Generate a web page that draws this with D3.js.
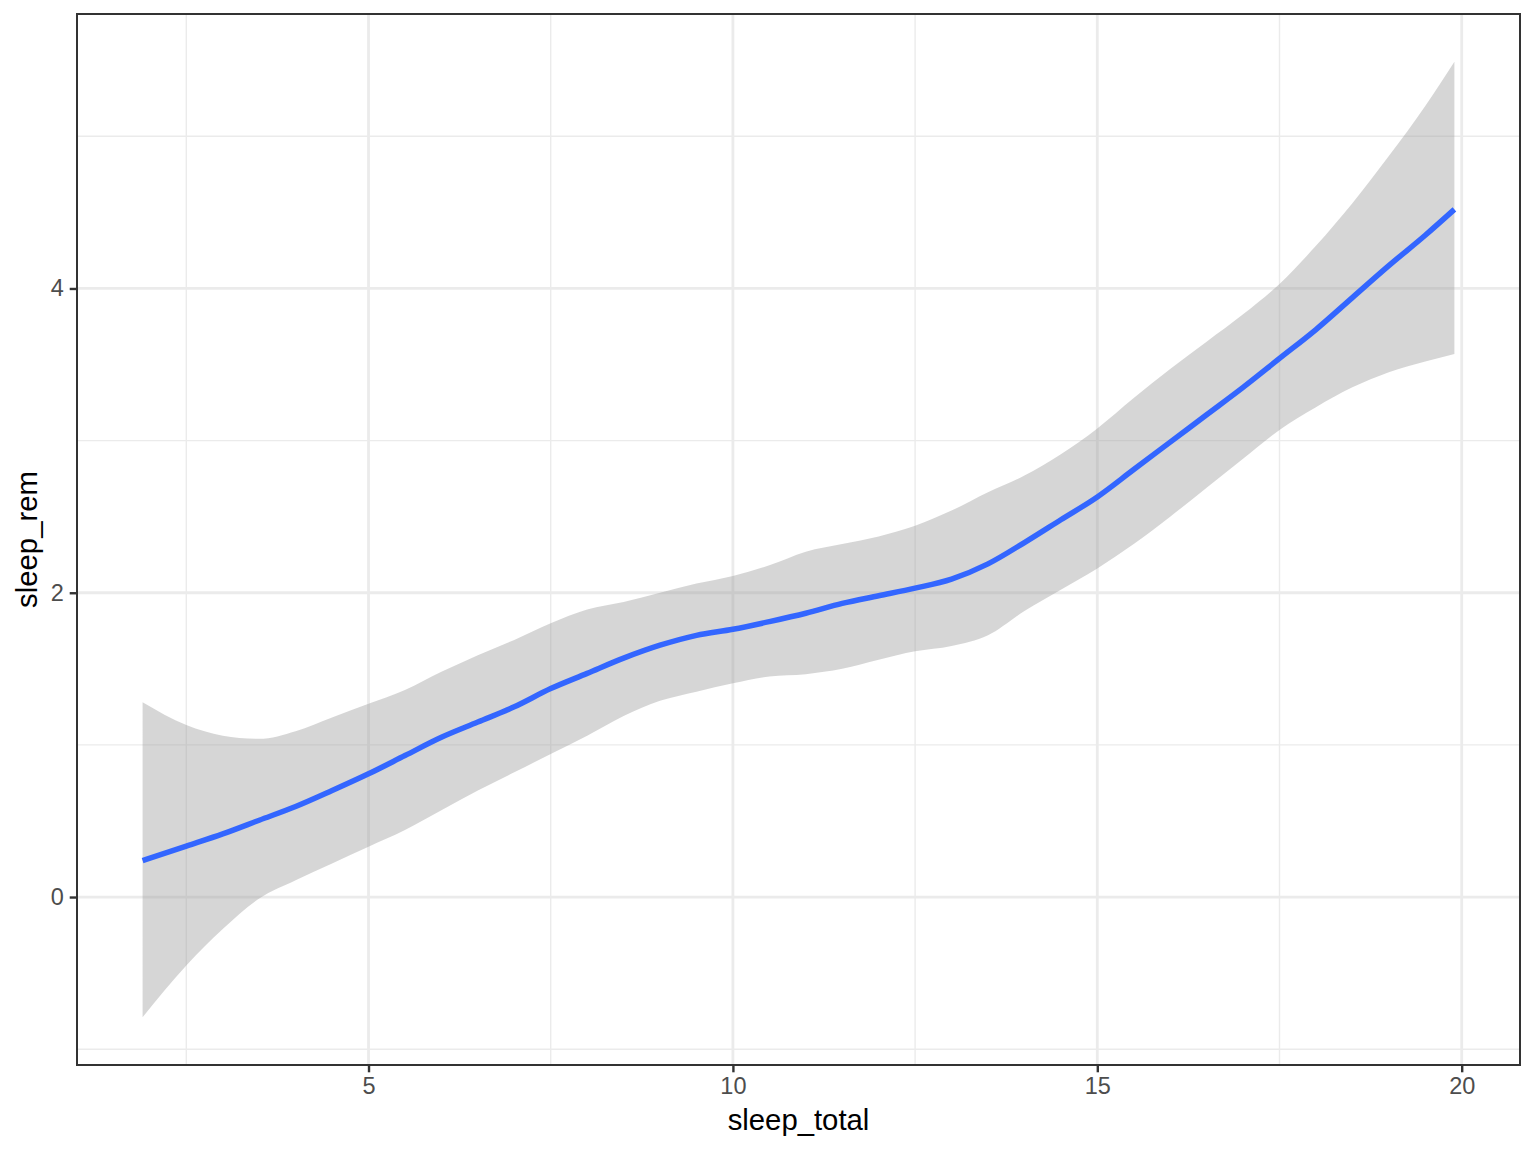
<!DOCTYPE html>
<html>
<head>
<meta charset="utf-8">
<script src="https://cdn.jsdelivr.net/npm/d3@7"></script>
<style>
  html, body { margin: 0; padding: 0; background: #ffffff; }
  svg { display: block; }
  text { font-family: "Liberation Sans", Arial, "DejaVu Sans", sans-serif; }
</style>
</head>
<body>
<svg id="chart" width="1536" height="1152"></svg>
<script>
// ---- data ----
const sleepTotal = [1.9, 2.5, 3.0, 3.5, 4.0, 4.5, 5.0, 5.5, 6.0, 6.5, 7.0, 7.5, 8.0, 8.5, 9.0, 9.5, 10, 10.5, 11, 11.5, 12, 12.5, 13, 13.5, 14, 14.5, 15, 15.5, 16, 16.5, 17, 17.5, 18, 18.5, 19, 19.5, 19.9];
const fitRem = [0.24, 0.335, 0.415, 0.505, 0.595, 0.70, 0.81, 0.93, 1.05, 1.15, 1.25, 1.37, 1.47, 1.57, 1.655, 1.72, 1.76, 1.81, 1.865, 1.93, 1.98, 2.03, 2.09, 2.19, 2.33, 2.48, 2.63, 2.81, 2.99, 3.17, 3.35, 3.54, 3.73, 3.94, 4.15, 4.35, 4.52];
const upperRem = [1.28, 1.13, 1.06, 1.04, 1.09, 1.18, 1.27, 1.36, 1.48, 1.59, 1.69, 1.80, 1.89, 1.94, 2.00, 2.06, 2.11, 2.18, 2.27, 2.32, 2.37, 2.44, 2.54, 2.66, 2.77, 2.91, 3.08, 3.28, 3.47, 3.65, 3.83, 4.03, 4.28, 4.56, 4.87, 5.20, 5.49];
const lowerRem = [-0.79, -0.45, -0.21, -0.01, 0.11, 0.22, 0.33, 0.44, 0.57, 0.70, 0.82, 0.94, 1.06, 1.19, 1.29, 1.35, 1.405, 1.45, 1.465, 1.50, 1.56, 1.615, 1.65, 1.72, 1.88, 2.02, 2.16, 2.32, 2.50, 2.69, 2.88, 3.07, 3.22, 3.35, 3.45, 3.52, 3.57];
const xTicks = [5, 10, 15, 20];
const xMinor = [2.5, 7.5, 12.5, 17.5];
const yTicks = [0, 2, 4];
const yMinor = [-1, 1, 3, 5];
const xLabel = "sleep_total";
const yLabel = "sleep_rem";

const rows = sleepTotal.map((x, i) => ({ x, y: fitRem[i], lo: lowerRem[i], hi: upperRem[i] }));

// ---- layout ----
const panel = { left: 77, right: 1520, top: 14, bottom: 1065 };
const svg = d3.select("#chart");

// ggplot-style 5% expansion
const xMin = d3.min(sleepTotal), xMax = d3.max(sleepTotal);
const xPad = (xMax - xMin) * 0.05;
const yMin = d3.min(lowerRem), yMax = d3.max(upperRem);
const yPad = (yMax - yMin) * 0.05;

const x = d3.scaleLinear().domain([xMin - xPad, xMax + xPad]).range([panel.left, panel.right]);
const y = d3.scaleLinear().domain([yMin - yPad, yMax + yPad]).range([panel.bottom, panel.top]);

svg.append("rect").attr("x", 0).attr("y", 0).attr("width", 1536).attr("height", 1152).attr("fill", "#ffffff");

const grid = svg.append("g");
grid.selectAll("line.xminor").data(xMinor).join("line")
  .attr("x1", d => x(d)).attr("x2", d => x(d))
  .attr("y1", panel.top).attr("y2", panel.bottom)
  .attr("stroke", "#EBEBEB").attr("stroke-width", 1.4);
grid.selectAll("line.yminor").data(yMinor).join("line")
  .attr("y1", d => y(d)).attr("y2", d => y(d))
  .attr("x1", panel.left).attr("x2", panel.right)
  .attr("stroke", "#EBEBEB").attr("stroke-width", 1.4);
grid.selectAll("line.xmajor").data(xTicks).join("line")
  .attr("x1", d => x(d)).attr("x2", d => x(d))
  .attr("y1", panel.top).attr("y2", panel.bottom)
  .attr("stroke", "#EBEBEB").attr("stroke-width", 2.8);
grid.selectAll("line.ymajor").data(yTicks).join("line")
  .attr("y1", d => y(d)).attr("y2", d => y(d))
  .attr("x1", panel.left).attr("x2", panel.right)
  .attr("stroke", "#EBEBEB").attr("stroke-width", 2.8);

// ribbon
const area = d3.area().x(d => x(d.x)).y0(d => y(d.lo)).y1(d => y(d.hi)).curve(d3.curveMonotoneX);
svg.append("path").datum(rows).attr("d", area)
  .attr("fill", "#999999").attr("fill-opacity", 0.4);

// fitted line
const line = d3.line().x(d => x(d.x)).y(d => y(d.y)).curve(d3.curveMonotoneX);
svg.append("path").datum(rows).attr("d", line)
  .attr("fill", "none").attr("stroke", "#3366FF").attr("stroke-width", 5.5)
  .attr("stroke-linejoin", "round");

// panel border
svg.append("rect")
  .attr("x", panel.left).attr("y", panel.top)
  .attr("width", panel.right - panel.left).attr("height", panel.bottom - panel.top)
  .attr("fill", "none").attr("stroke", "#333333").attr("stroke-width", 2);

// axes
const xAxis = d3.axisBottom(x).tickValues(xTicks).tickSize(7.3).tickPadding(5.5).tickFormat(d3.format("d"));
const gx = svg.append("g").attr("transform", `translate(0,${panel.bottom})`).call(xAxis);
gx.select(".domain").remove();
gx.selectAll(".tick line").attr("stroke", "#333333").attr("stroke-width", 2.4);
gx.selectAll(".tick text").attr("fill", "#4D4D4D").attr("font-size", "23.5px")
  .attr("font-family", "'Liberation Sans', Arial, sans-serif");

const yAxis = d3.axisLeft(y).tickValues(yTicks).tickSize(7.3).tickPadding(6).tickFormat(d3.format("d"));
const gy = svg.append("g").attr("transform", `translate(${panel.left},0)`).call(yAxis);
gy.select(".domain").remove();
gy.selectAll(".tick line").attr("stroke", "#333333").attr("stroke-width", 2.4);
gy.selectAll(".tick text").attr("fill", "#4D4D4D").attr("font-size", "23.5px")
  .attr("font-family", "'Liberation Sans', Arial, sans-serif");

// titles
svg.append("text")
  .attr("x", (panel.left + panel.right) / 2).attr("y", 1130)
  .attr("text-anchor", "middle").attr("font-size", "29.3px").attr("fill", "#000000")
  .text(xLabel);
svg.append("text")
  .attr("transform", `translate(37,${(panel.top + panel.bottom) / 2}) rotate(-90)`)
  .attr("text-anchor", "middle").attr("font-size", "29.3px").attr("fill", "#000000")
  .text(yLabel);
</script>
</body>
</html>
